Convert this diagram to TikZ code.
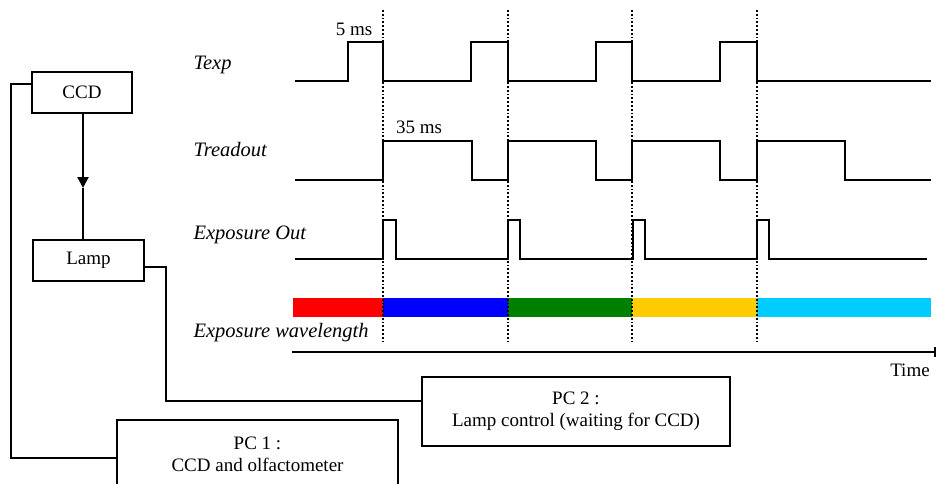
\documentclass[tikz,border=0pt]{standalone}
\usepackage{fontspec}
\setmainfont{LiberationSerif}[Extension=.ttf,UprightFont=*-Regular,ItalicFont=*-Italic,BoldFont=*-Bold,BoldItalicFont=*-BoldItalic]
\usetikzlibrary{arrows.meta}
\definecolor{wlgreen}{HTML}{008000}
\definecolor{wlyellow}{HTML}{FFCC00}
\definecolor{wlcyan}{HTML}{00CCFF}

\begin{document}
\begin{tikzpicture}[x=1pt,y=-1pt,
        box/.style={draw,line width=2.6pt,inner sep=0pt,align=center,font=\fontsize{19}{22}\selectfont},
        wire/.style={line width=2.2pt},
        signal/.style={line width=2.4pt,line join=miter},
        syncline/.style={line width=2.2pt,dash pattern=on 1.8pt off 2pt},
        lbl/.style={font=\fontsize{20.5}{23}\selectfont\itshape,anchor=west},
        txt/.style={font=\fontsize{19}{22}\selectfont}]
            \useasboundingbox (0,0) rectangle (937,484);

            \node[box,minimum width=100pt,minimum height=41pt] (ccd) at (82,92.5) {CCD};
            \node[box,minimum width=111pt,minimum height=41pt] (lamp) at (88.5,260.5) {Lamp};
            \node[box,minimum width=281pt,minimum height=68pt] (pc1) at (257.5,454) {PC 1 :\\CCD and olfactometer};
            \node[box,minimum width=308pt,minimum height=69pt] (pc2) at (576,411.5) {PC 2 :\\Lamp control (waiting for CCD)};

            \coordinate (tip) at (83,188);
            \draw[wire,-{Triangle[length=11pt,width=11pt]}] (ccd.south -| tip) -- (tip);
            \draw[wire] (tip) -- (lamp.north -| tip);
            \draw[wire] ([yshift=8.5pt]ccd.west) -- ++(-20,0) |- ([yshift=-4pt]pc1.west);
            \draw[wire] ([yshift=-6.5pt]lamp.east) -- ++(21,0) |- ([yshift=10.5pt]pc2.west);

            \node[lbl] (texp) at (190,65) {Texp};
            \node[lbl] (tread) at (190,150) {Treadout};
            \node[lbl] (expout) at (190,235) {Exposure Out};
            \node[lbl] (expwl) at (190,333) {Exposure wavelength};

            \fill[red] (293,298) rectangle (383,317);
            \fill[blue] (383,298) rectangle (508,317);
            \fill[wlgreen] (508,298) rectangle (632,317);
            \fill[wlyellow] (632,298) rectangle (757,317);
            \fill[wlcyan] (757,298) rectangle (931,317);

            \draw[signal] (295,81) -- (348,81) -- (348,42) -- (383,42) -- (383,81) -- (471,81) -- (471,42) -- (508,42) -- (508,81)
                -- (596,81) -- (596,42) -- (632,42) -- (632,81) -- (720,81) -- (720,42) -- (757,42) -- (757,81) -- (931,81);
            \draw[signal] (295,180) -- (383,180) -- (383,141) -- (472,141) -- (472,180) -- (508,180) -- (508,141) -- (596,141) -- (596,180)
                -- (632,180) -- (632,141) -- (720,141) -- (720,180) -- (757,180) -- (757,141) -- (845,141) -- (845,180) -- (931,180);
            \draw[signal,line width=2pt] (295,259) -- (383,259) -- (383,220) -- (396,220) -- (396,259) -- (508,259) -- (508,220) -- (520,220) -- (520,259)
                -- (633,259) -- (633,220) -- (645,220) -- (645,259) -- (757,259) -- (757,220) -- (769,220) -- (769,259) -- (927,259);

            \draw[syncline] (383,10) -- (383,342);
            \draw[syncline] (508,10) -- (508,342);
            \draw[syncline] (632,10) -- (632,342);
            \draw[syncline] (757,10) -- (757,342);

            \draw[wire,-{Bar[width=10pt]}] (292,352) -- (936,352);

            \node[txt] (t5) at (354,29) {5 ms};
            \node[txt] (t35) at (419,127) {35 ms};
            \node[txt] (time) at (910,370) {Time};

        \end{tikzpicture}
\end{document}
